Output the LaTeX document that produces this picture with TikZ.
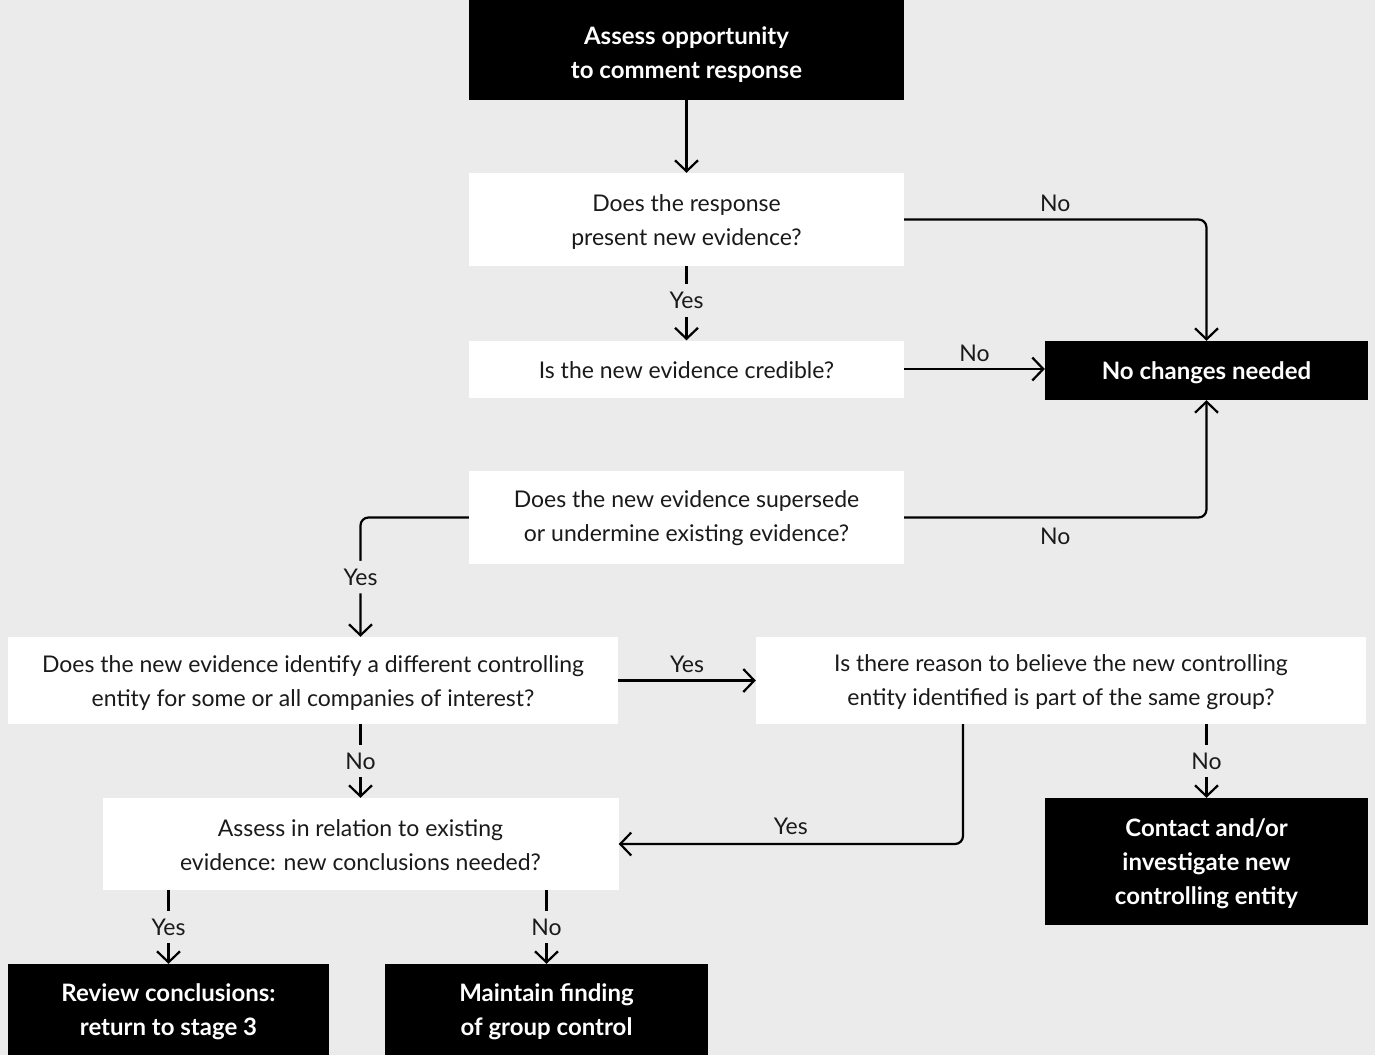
\documentclass[tikz,border=0pt]{standalone}
\usepackage{fontspec}
\setmainfont{Lato}
\usetikzlibrary{arrows.meta,calc}
\definecolor{bgcol}{HTML}{EBEBEB}
\definecolor{ink}{HTML}{1A1A1A}
\begin{document}
\begin{tikzpicture}[x=1pt,y=-1pt,
  every node/.style={font=\fontsize{23}{34}\selectfont, text=ink},
  qbox/.style 2 args={fill=white, draw=none, inner sep=0pt,
    minimum width=#1pt, minimum height=#2pt},
  endbox/.style 2 args={fill=black, draw=none, inner sep=0pt,
    minimum width=#1pt, minimum height=#2pt},
  qtext/.style={align=center, inner sep=0pt},
  endtext/.style={align=center, inner sep=0pt,
    font=\fontsize{24}{34}\selectfont\bfseries, text=white},
  conn/.style={draw=black, line width=2.2pt,
    -{Straight Barb[length=11pt,width=23pt]}},
  lbl/.style={fill=bgcol, inner xsep=3pt, inner ysep=8pt},
]
\fill[bgcol] (0,0) rectangle (1375,1055);
\useasboundingbox (0,0) rectangle (1375,1055);

% boxes
\node[endbox={435}{100}] (A) at (686.5,50) {};
\node[qbox={435}{93}]    (B) at (686.5,219.5) {};
\node[qbox={435}{57}]    (C) at (686.5,369) {};
\node[qbox={435}{93}]    (D) at (686.5,517.5) {};
\node[endbox={323}{59}]  (N) at (1206.5,370.5) {};
\node[qbox={610}{87}]    (E) at (313,680.5) {};
\node[qbox={610}{87}]    (F) at (1061,680.5) {};
\node[qbox={516}{92}]    (G) at (360.5,844) {};
\node[endbox={323}{127}] (H) at (1206.5,861.5) {};
\node[endbox={321}{91}]  (I) at (168.5,1009.5) {};
\node[endbox={323}{91}]  (J) at (546.5,1009.5) {};

% box texts
\node[endtext] (At) at ([yshift=-5pt]A.center) {Assess opportunity\\to comment response};
\node[qtext] (Bt) at ([yshift=-2pt]B.center) {Does the response\\present new evidence?};
\node[qtext] (Ct) at ([yshift=-1pt]C.center) {Is the new evidence credible?};
\node[qtext] (Dt) at ([yshift=-1pt]D.center) {Does the new evidence supersede\\or undermine existing evidence?};
\node[endtext] (Nt) at ([yshift=-2pt]N.center) {No changes needed};
\node[qtext] (Et) at ([yshift=-2pt]E.center) {Does the new evidence identify a different controlling\\entity for some or all companies of interest?};
\node[qtext] (Ft) at ([yshift=-2pt]F.center) {Is there reason to believe the new controlling\\entity identified is part of the same group?};
\node[qtext] (Gt) at ([yshift=-1pt]G.center) {Assess in relation to existing\\evidence: new conclusions needed?};
\node[endtext] (Ht) at ([yshift=-2pt]H.center) {Contact and/or\\investigate new\\controlling entity};
\node[endtext] (It) at ([yshift=-2pt]I.center) {Review conclusions:\\return to stage 3};
\node[endtext] (Jt) at ([yshift=-2pt]J.center) {Maintain finding\\of group control};

% connectors
\draw[conn] (A.south) -- (B.north);
\draw[conn] (B.south) -- node[lbl, pos=0.46]{Yes} (C.north);
\draw[conn, rounded corners=8pt] (B.east) -| node[pos=0.25, above=3pt]{No} (N.north);
\draw[conn] (C.east) -- node[above=3pt]{No} (C.east -| N.west);
\draw[conn, rounded corners=8pt] (D.east) -| node[pos=0.25, below=6pt]{No} (N.south);
\draw[conn, rounded corners=8pt] (D.west) -| node[pos=0.75, lbl]{Yes} (G.north |- E.north);
\draw[conn] (E.east) -- node[above=3pt]{Yes} (F.west);
\draw[conn] (G.north |- E.south) -- node[lbl]{No} (G.north);
\draw[conn] (H.north |- F.south) -- node[lbl]{No} (H.north);
\draw[conn, rounded corners=8pt] ([xshift=-98pt]F.south) |- node[pos=0.75, above=5pt]{Yes} (G.east);
\draw[conn] (I.north |- G.south) -- node[lbl]{Yes} (I.north);
\draw[conn] (J.north |- G.south) -- node[lbl]{No} (J.north);
\end{tikzpicture}
\end{document}
